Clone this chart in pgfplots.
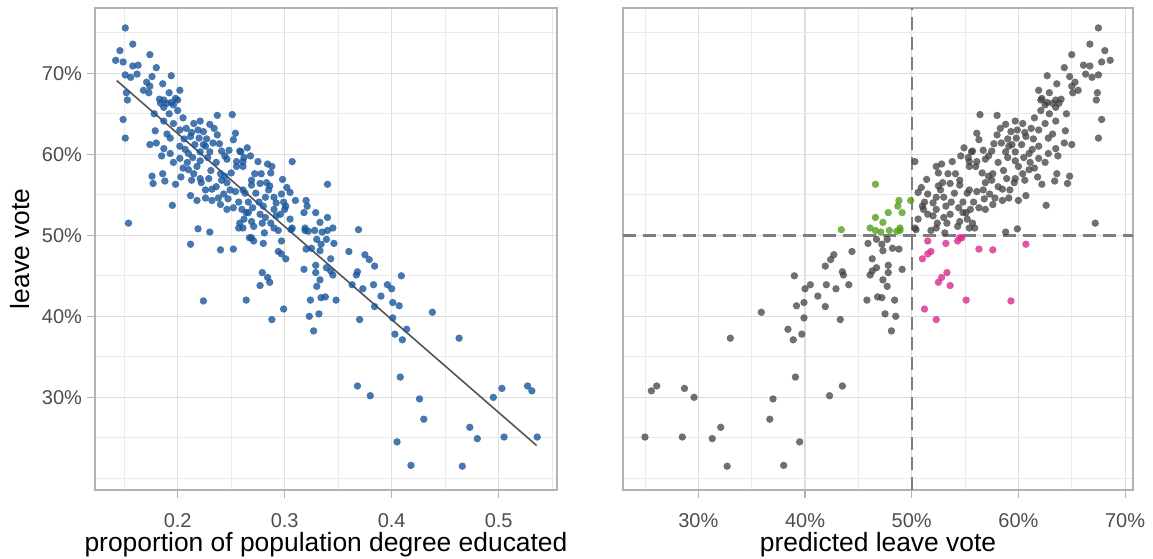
\documentclass[border=0pt]{standalone}
\usepackage{fontspec}
\setmainfont{Liberation Sans}
\usepackage{pgfplots}
\usepackage{pgfplotstable}
\pgfplotsset{compat=1.18}

\definecolor{ptblue}{RGB}{25,85,155}
\definecolor{ptgrey}{RGB}{64,64,64}
\definecolor{ptgreen}{RGB}{85,160,30}
\definecolor{ptpink}{RGB}{215,45,140}
\definecolor{gridc}{RGB}{222,222,222}
\definecolor{gridm}{RGB}{235,235,235}
\definecolor{framec}{RGB}{179,179,179}
\definecolor{ticktxt}{RGB}{77,77,77}
\definecolor{linec}{RGB}{85,85,85}
\definecolor{dashc}{RGB}{125,125,125}

% d = degree share, y = leave vote, p = predicted leave vote, c = class
\pgfplotstableread{
d y p c
0.151 0.756 0.675 k
0.158 0.736 0.667 k
0.146 0.728 0.681 k
0.174 0.723 0.650 k
0.142 0.716 0.686 k
0.149 0.714 0.678 k
0.158 0.709 0.667 k
0.163 0.710 0.661 k
0.180 0.707 0.643 k
0.151 0.698 0.675 k
0.156 0.695 0.669 k
0.162 0.699 0.663 k
0.176 0.696 0.648 k
0.194 0.697 0.627 k
0.171 0.689 0.653 k
0.174 0.684 0.650 k
0.168 0.679 0.656 k
0.173 0.676 0.651 k
0.186 0.687 0.636 k
0.202 0.679 0.619 k
0.192 0.676 0.629 k
0.152 0.676 0.674 k
0.153 0.667 0.673 k
0.187 0.667 0.635 k
0.198 0.669 0.622 k
0.184 0.663 0.638 k
0.190 0.663 0.632 k
0.194 0.664 0.627 k
0.200 0.667 0.621 k
0.187 0.658 0.635 k
0.200 0.654 0.621 k
0.192 0.650 0.629 k
0.237 0.648 0.580 k
0.251 0.649 0.564 k
0.149 0.643 0.678 k
0.187 0.641 0.635 k
0.196 0.638 0.625 k
0.215 0.638 0.604 k
0.221 0.641 0.597 k
0.230 0.637 0.588 k
0.179 0.629 0.644 k
0.190 0.625 0.632 k
0.202 0.630 0.619 k
0.208 0.632 0.612 k
0.213 0.627 0.606 k
0.219 0.630 0.599 k
0.224 0.628 0.593 k
0.234 0.632 0.583 k
0.254 0.626 0.561 k
0.151 0.620 0.675 k
0.193 0.620 0.628 k
0.206 0.619 0.614 k
0.220 0.620 0.598 k
0.227 0.619 0.590 k
0.237 0.624 0.580 k
0.252 0.618 0.563 k
0.174 0.612 0.650 k
0.180 0.614 0.643 k
0.187 0.607 0.635 k
0.193 0.601 0.628 k
0.202 0.610 0.619 k
0.210 0.601 0.610 k
0.221 0.603 0.597 k
0.230 0.603 0.588 k
0.241 0.604 0.575 k
0.248 0.605 0.567 k
0.259 0.603 0.556 k
0.202 0.595 0.619 k
0.221 0.592 0.597 k
0.246 0.594 0.569 k
0.255 0.591 0.561 k
0.261 0.591 0.554 k
0.258 0.604 0.557 k
0.262 0.596 0.553 k
0.183 0.668 0.640 k
0.196 0.661 0.625 k
0.178 0.650 0.645 k
0.205 0.645 0.615 k
0.212 0.622 0.607 k
0.216 0.612 0.603 k
0.226 0.610 0.591 k
0.233 0.614 0.584 k
0.239 0.613 0.577 k
0.244 0.598 0.572 k
0.236 0.590 0.581 k
0.228 0.596 0.590 k
0.214 0.596 0.605 k
0.207 0.606 0.613 k
0.265 0.608 0.549 k
0.268 0.598 0.546 k
0.224 0.612 0.594 k
0.209 0.590 0.611 k
0.231 0.580 0.586 k
0.226 0.556 0.592 k
0.243 0.551 0.573 k
0.203 0.572 0.618 k
0.196 0.590 0.625 k
0.185 0.598 0.637 k
0.205 0.583 0.615 k
0.210 0.581 0.610 k
0.218 0.585 0.600 k
0.176 0.573 0.648 k
0.186 0.576 0.636 k
0.177 0.564 0.646 k
0.188 0.567 0.634 k
0.198 0.563 0.622 k
0.215 0.576 0.604 k
0.221 0.570 0.597 k
0.229 0.570 0.589 k
0.213 0.568 0.606 k
0.222 0.565 0.596 k
0.236 0.560 0.581 k
0.232 0.557 0.585 k
0.240 0.576 0.576 k
0.244 0.573 0.572 k
0.250 0.577 0.566 k
0.255 0.585 0.560 k
0.261 0.585 0.554 k
0.241 0.568 0.575 k
0.246 0.565 0.569 k
0.249 0.556 0.567 k
0.254 0.554 0.561 k
0.261 0.556 0.554 k
0.212 0.549 0.607 k
0.218 0.543 0.600 k
0.226 0.546 0.591 k
0.232 0.543 0.585 k
0.238 0.546 0.578 k
0.247 0.545 0.568 k
0.240 0.538 0.576 k
0.246 0.532 0.569 k
0.252 0.534 0.563 k
0.257 0.541 0.558 k
0.260 0.532 0.555 k
0.264 0.528 0.551 k
0.195 0.537 0.626 k
0.154 0.515 0.672 k
0.258 0.515 0.557 k
0.257 0.509 0.559 k
0.261 0.509 0.554 k
0.219 0.508 0.599 k
0.230 0.504 0.588 k
0.267 0.497 0.547 m
0.212 0.489 0.607 m
0.240 0.482 0.576 m
0.252 0.483 0.563 m
0.224 0.419 0.593 m
0.264 0.420 0.551 m
0.275 0.591 0.538 k
0.284 0.588 0.528 k
0.288 0.585 0.523 k
0.307 0.591 0.503 k
0.272 0.576 0.541 k
0.278 0.576 0.534 k
0.287 0.577 0.525 k
0.269 0.568 0.545 k
0.269 0.562 0.545 k
0.277 0.564 0.536 k
0.283 0.565 0.529 k
0.286 0.561 0.525 k
0.298 0.569 0.514 k
0.302 0.559 0.509 k
0.305 0.553 0.506 k
0.273 0.552 0.540 k
0.263 0.552 0.552 k
0.340 0.563 0.466 g
0.297 0.551 0.515 k
0.282 0.547 0.530 k
0.290 0.547 0.523 k
0.310 0.543 0.499 g
0.299 0.541 0.512 k
0.301 0.536 0.510 k
0.320 0.543 0.488 g
0.321 0.536 0.487 g
0.266 0.541 0.548 k
0.276 0.541 0.537 k
0.280 0.536 0.532 k
0.290 0.532 0.523 k
0.300 0.532 0.511 k
0.329 0.528 0.478 g
0.318 0.528 0.491 g
0.266 0.528 0.548 k
0.277 0.526 0.536 k
0.282 0.522 0.530 k
0.292 0.524 0.520 k
0.305 0.520 0.506 k
0.333 0.516 0.473 g
0.340 0.522 0.466 g
0.269 0.517 0.545 k
0.279 0.515 0.533 k
0.271 0.511 0.543 k
0.290 0.509 0.523 k
0.294 0.506 0.518 k
0.307 0.509 0.503 k
0.306 0.507 0.504 k
0.319 0.509 0.489 g
0.319 0.506 0.489 g
0.322 0.505 0.486 g
0.328 0.506 0.479 g
0.335 0.504 0.471 g
0.340 0.506 0.466 g
0.345 0.509 0.461 g
0.369 0.507 0.434 g
0.281 0.503 0.531 k
0.285 0.556 0.527 k
0.292 0.540 0.520 k
0.270 0.534 0.544 k
0.262 0.520 0.552 k
0.296 0.526 0.515 k
0.287 0.515 0.524 k
0.269 0.497 0.545 m
0.271 0.493 0.543 m
0.280 0.490 0.532 m
0.297 0.493 0.515 m
0.330 0.495 0.477 k
0.339 0.495 0.467 k
0.346 0.490 0.459 k
0.334 0.489 0.472 k
0.325 0.484 0.482 k
0.320 0.483 0.488 k
0.333 0.481 0.473 k
0.360 0.480 0.444 k
0.294 0.480 0.518 m
0.297 0.477 0.515 m
0.301 0.471 0.510 m
0.343 0.471 0.463 k
0.375 0.476 0.427 k
0.379 0.470 0.424 k
0.384 0.462 0.419 k
0.329 0.463 0.478 k
0.339 0.460 0.467 k
0.318 0.458 0.491 k
0.329 0.454 0.478 k
0.343 0.456 0.463 k
0.345 0.451 0.461 k
0.368 0.455 0.435 k
0.367 0.451 0.436 k
0.409 0.450 0.390 k
0.279 0.454 0.533 m
0.284 0.448 0.528 m
0.286 0.442 0.525 m
0.277 0.438 0.536 m
0.333 0.445 0.473 k
0.330 0.437 0.477 k
0.363 0.439 0.441 k
0.373 0.434 0.429 k
0.383 0.439 0.420 k
0.396 0.439 0.405 k
0.400 0.434 0.400 k
0.390 0.425 0.412 k
0.334 0.423 0.472 k
0.338 0.424 0.468 k
0.324 0.420 0.484 k
0.348 0.420 0.458 k
0.401 0.417 0.399 k
0.407 0.413 0.392 k
0.288 0.396 0.523 m
0.299 0.409 0.512 m
0.323 0.400 0.485 k
0.332 0.403 0.475 k
0.327 0.382 0.481 k
0.370 0.396 0.433 k
0.384 0.412 0.419 k
0.401 0.398 0.399 k
0.403 0.378 0.397 k
0.368 0.314 0.435 k
0.380 0.302 0.423 k
0.405 0.245 0.395 k
0.408 0.325 0.391 k
0.438 0.405 0.359 k
0.414 0.384 0.384 k
0.410 0.371 0.389 k
0.463 0.373 0.330 k
0.426 0.298 0.370 k
0.430 0.273 0.367 k
0.418 0.216 0.380 k
0.466 0.215 0.327 k
0.473 0.263 0.321 k
0.480 0.249 0.313 k
0.495 0.300 0.296 k
0.503 0.311 0.287 k
0.505 0.251 0.285 k
0.527 0.314 0.261 k
0.531 0.308 0.256 k
0.536 0.251 0.250 k
}\brexit

\pgfplotsset{
  panel/.style={
    scale only axis, height=241pt,
    ymin=0.1856, ymax=0.7806,
    ytick={0.3,0.4,0.5,0.6,0.7},
    minor ytick={0.2,0.25,0.35,0.45,0.55,0.65,0.75},
    grid=both,
    major grid style={draw=gridc, line width=0.55pt},
    minor grid style={draw=gridm, line width=0.35pt},
    axis line style={draw=framec, line width=0.7pt},
    tick align=outside, tick pos=left,
    major tick length=4pt, minor tick length=0pt,
    every tick/.style={draw=framec, line width=0.6pt},
    tick label style={font=\fontsize{10}{12}\selectfont, text=ticktxt},
    label style={font=\fontsize{13.2}{15}\selectfont, text=black, inner sep=1pt},
    xticklabel style={inner sep=1pt, yshift=-6.8pt},
    yticklabel style={xshift=1pt},
    xlabel style={at={(axis description cs:0.5,-0.1266)}, anchor=base},
  },
}

\begin{document}
\begin{tikzpicture}
\path[use as bounding box] (-47.5pt,-34pt) rectangle (529pt,245pt);

\begin{axis}[panel,
    width=231pt,
    xmin=0.1227, xmax=0.5545,
    xtick={0.2,0.3,0.4,0.5},
    xticklabels={0.2,0.3,0.4,0.5},
    minor xtick={0.15,0.25,0.35,0.45,0.55},
    yticklabels={30\%,40\%,50\%,60\%,70\%},
    xlabel={proportion of population degree educated},
    ylabel={leave vote},
    ylabel style={at={(axis description cs:-0.1407,0.5)}, anchor=base},
]
\addplot[only marks, mark=*, mark size=1.85pt,
    mark options={draw opacity=0, fill=ptblue, fill opacity=0.8}]
    table[x=d, y=y] {\brexit};
\addplot[linec, line width=0.8pt] coordinates {(0.143,0.691) (0.5355,0.2405)};
\end{axis}

\begin{axis}[panel,
    at={(264pt,0pt)},
    width=255pt,
    xmin=0.2294, xmax=0.7074,
    xtick={0.3,0.4,0.5,0.6,0.7},
    xticklabels={30\%,40\%,50\%,60\%,70\%},
    minor xtick={0.25,0.35,0.45,0.55,0.65},
    yticklabels={},
    ytick style={draw=none},
    xlabel={predicted leave vote},
]
\addplot[scatter, only marks, mark=*, mark size=1.85pt,
    scatter src=explicit symbolic,
    scatter/classes={
      k={draw opacity=0, fill=ptgrey, fill opacity=0.75},
      g={draw opacity=0, fill=ptgreen, fill opacity=0.8},
      m={draw opacity=0, fill=ptpink, fill opacity=0.8}}]
    table[x=p, y=y, meta=c] {\brexit};
\addplot[dashc, line width=1.2pt, dash pattern=on 6.5pt off 3.5pt]
    coordinates {(0.5,0.1856) (0.5,0.7806)};
\addplot[dashc, line width=1.2pt, dash pattern=on 6.5pt off 3.5pt]
    coordinates {(0.2294,0.5) (0.7074,0.5)};
\end{axis}
\end{tikzpicture}
\end{document}
